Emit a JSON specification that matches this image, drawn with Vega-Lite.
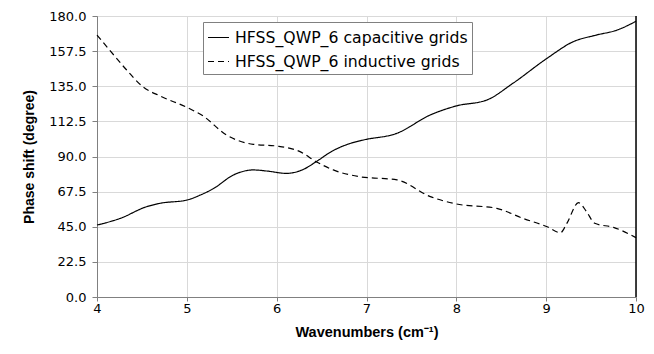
{
  "$schema": "https://vega.github.io/schema/vega-lite/v6.json",
  "width": 539,
  "height": 281,
  "autosize": {"type": "none"},
  "padding": {"left": 97, "top": 16, "right": 18, "bottom": 57},
  "background": "white",
  "config": {
    "font": "Liberation Sans",
    "view": {"stroke": "#808080", "strokeWidth": 1}
  },
  "datasets": {
    "curves": [
      {"x": 4.0, "v": 46.1, "s": "HFSS_QWP_6 capacitive grids"},
      {"x": 4.26, "v": 50.4, "s": "HFSS_QWP_6 capacitive grids"},
      {"x": 4.55, "v": 57.8, "s": "HFSS_QWP_6 capacitive grids"},
      {"x": 4.7, "v": 60.0, "s": "HFSS_QWP_6 capacitive grids"},
      {"x": 5.0, "v": 62.1, "s": "HFSS_QWP_6 capacitive grids"},
      {"x": 5.15, "v": 65.3, "s": "HFSS_QWP_6 capacitive grids"},
      {"x": 5.3, "v": 69.6, "s": "HFSS_QWP_6 capacitive grids"},
      {"x": 5.52, "v": 78.2, "s": "HFSS_QWP_6 capacitive grids"},
      {"x": 5.74, "v": 81.4, "s": "HFSS_QWP_6 capacitive grids"},
      {"x": 5.89, "v": 80.7, "s": "HFSS_QWP_6 capacitive grids"},
      {"x": 6.11, "v": 79.2, "s": "HFSS_QWP_6 capacitive grids"},
      {"x": 6.3, "v": 81.8, "s": "HFSS_QWP_6 capacitive grids"},
      {"x": 6.44, "v": 86.7, "s": "HFSS_QWP_6 capacitive grids"},
      {"x": 6.62, "v": 93.5, "s": "HFSS_QWP_6 capacitive grids"},
      {"x": 6.8, "v": 98.0, "s": "HFSS_QWP_6 capacitive grids"},
      {"x": 6.96, "v": 100.5, "s": "HFSS_QWP_6 capacitive grids"},
      {"x": 7.34, "v": 104.9, "s": "HFSS_QWP_6 capacitive grids"},
      {"x": 7.71, "v": 116.6, "s": "HFSS_QWP_6 capacitive grids"},
      {"x": 8.0, "v": 122.4, "s": "HFSS_QWP_6 capacitive grids"},
      {"x": 8.34, "v": 126.2, "s": "HFSS_QWP_6 capacitive grids"},
      {"x": 8.63, "v": 136.9, "s": "HFSS_QWP_6 capacitive grids"},
      {"x": 9.01, "v": 152.9, "s": "HFSS_QWP_6 capacitive grids"},
      {"x": 9.3, "v": 163.5, "s": "HFSS_QWP_6 capacitive grids"},
      {"x": 9.56, "v": 167.8, "s": "HFSS_QWP_6 capacitive grids"},
      {"x": 9.79, "v": 171.0, "s": "HFSS_QWP_6 capacitive grids"},
      {"x": 10.0, "v": 176.6, "s": "HFSS_QWP_6 capacitive grids"},
      {"x": 4.0, "v": 167.8, "s": "HFSS_QWP_6 inductive grids"},
      {"x": 4.14, "v": 158.2, "s": "HFSS_QWP_6 inductive grids"},
      {"x": 4.33, "v": 145.4, "s": "HFSS_QWP_6 inductive grids"},
      {"x": 4.51, "v": 134.7, "s": "HFSS_QWP_6 inductive grids"},
      {"x": 4.7, "v": 128.8, "s": "HFSS_QWP_6 inductive grids"},
      {"x": 5.0, "v": 121.5, "s": "HFSS_QWP_6 inductive grids"},
      {"x": 5.18, "v": 116.0, "s": "HFSS_QWP_6 inductive grids"},
      {"x": 5.44, "v": 103.8, "s": "HFSS_QWP_6 inductive grids"},
      {"x": 5.74, "v": 97.8, "s": "HFSS_QWP_6 inductive grids"},
      {"x": 6.0, "v": 96.7, "s": "HFSS_QWP_6 inductive grids"},
      {"x": 6.26, "v": 93.1, "s": "HFSS_QWP_6 inductive grids"},
      {"x": 6.44, "v": 86.7, "s": "HFSS_QWP_6 inductive grids"},
      {"x": 6.63, "v": 81.4, "s": "HFSS_QWP_6 inductive grids"},
      {"x": 6.92, "v": 77.1, "s": "HFSS_QWP_6 inductive grids"},
      {"x": 7.34, "v": 75.0, "s": "HFSS_QWP_6 inductive grids"},
      {"x": 7.71, "v": 64.3, "s": "HFSS_QWP_6 inductive grids"},
      {"x": 8.0, "v": 59.6, "s": "HFSS_QWP_6 inductive grids"},
      {"x": 8.45, "v": 56.8, "s": "HFSS_QWP_6 inductive grids"},
      {"x": 8.74, "v": 50.4, "s": "HFSS_QWP_6 inductive grids"},
      {"x": 9.01, "v": 45.0, "s": "HFSS_QWP_6 inductive grids"},
      {"x": 9.16, "v": 41.2, "s": "HFSS_QWP_6 inductive grids"},
      {"x": 9.23, "v": 47.2, "s": "HFSS_QWP_6 inductive grids"},
      {"x": 9.36, "v": 60.4, "s": "HFSS_QWP_6 inductive grids"},
      {"x": 9.45, "v": 54.6, "s": "HFSS_QWP_6 inductive grids"},
      {"x": 9.54, "v": 47.2, "s": "HFSS_QWP_6 inductive grids"},
      {"x": 9.75, "v": 44.6, "s": "HFSS_QWP_6 inductive grids"},
      {"x": 10.0, "v": 38.0, "s": "HFSS_QWP_6 inductive grids"}
    ],
    "edge": [{"x": 10}]
  },
  "layer": [
    {
      "data": {"name": "curves"},
      "mark": {"type": "line", "interpolate": "monotone", "color": "black", "strokeWidth": 1.2},
      "encoding": {
        "x": {
          "field": "x", "type": "quantitative",
          "scale": {"domain": [4, 10], "nice": false, "zero": false},
          "axis": {
            "values": [4, 5, 6, 7, 8, 9, 10],
            "format": "d",
            "labelFlush": false,
            "title": "Wavenumbers (cm⁻¹)",
            "titleFont": "Liberation Sans", "titleFontSize": 14.5, "titleFontWeight": "bold", "titleColor": "black",
            "titlePadding": 10,
            "labelFont": "DejaVu Sans", "labelFontSize": 13, "labelColor": "black", "labelPadding": 1,
            "domainColor": "#808080", "tickColor": "#808080", "tickSize": 4,
            "gridColor": "#d9d9d9", "grid": true
          }
        },
        "y": {
          "field": "v", "type": "quantitative",
          "scale": {"domain": [0, 180], "nice": false},
          "axis": {
            "values": [0, 22.5, 45, 67.5, 90, 112.5, 135, 157.5, 180],
            "format": ".1f",
            "title": "Phase shift (degree)",
            "titleFont": "Liberation Sans", "titleFontSize": 14, "titleFontWeight": "bold", "titleColor": "black",
            "titlePadding": 12,
            "labelFont": "DejaVu Sans", "labelFontSize": 13, "labelColor": "black", "labelPadding": 6,
            "domainColor": "#808080", "tickColor": "#808080", "tickSize": 5,
            "gridColor": "#d9d9d9", "grid": true
          }
        },
        "strokeDash": {
          "field": "s", "type": "nominal",
          "scale": {"domain": ["HFSS_QWP_6 capacitive grids", "HFSS_QWP_6 inductive grids"], "range": [[1, 0], [6, 4]]},
          "legend": {
            "title": null,
            "orient": "none",
            "legendX": 106,
            "legendY": 6,
            "fillColor": "white",
            "strokeColor": "#808080",
            "padding": 4,
            "symbolType": "stroke",
            "symbolStrokeColor": "black",
            "symbolStrokeWidth": 1.2,
            "symbolSize": 440,
            "labelFont": "DejaVu Sans",
            "labelFontSize": 15.7,
            "labelColor": "black",
            "labelOffset": 5,
            "rowPadding": 4,
            "labelLimit": 400
          }
        }
      }
    },
    {
      "data": {"name": "edge"},
      "mark": {"type": "rule", "color": "black", "strokeWidth": 1.5},
      "encoding": {"x": {"field": "x", "type": "quantitative"}}
    }
  ]
}
